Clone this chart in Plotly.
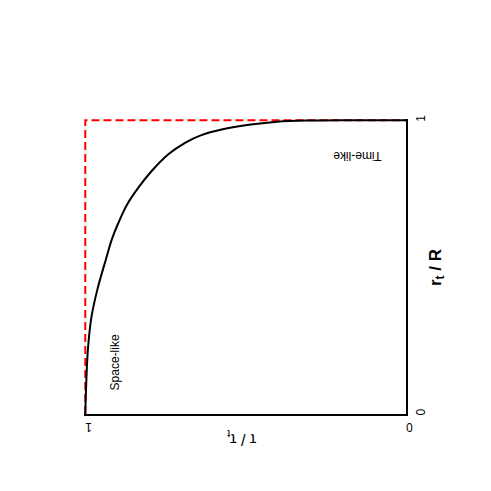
import plotly.graph_objects as go

# curve: tau/tau_t (horizontal, reversed) vs r_t/R (vertical)
tau_ratio = [1.0, 0.997, 0.992, 0.981, 0.962, 0.936, 0.917, 0.897, 0.870, 0.834,
             0.793, 0.741, 0.689, 0.638, 0.575, 0.484, 0.401, 0.298, 0.174, 0.0]
r_ratio = [0.0, 0.105, 0.217, 0.329, 0.425, 0.525, 0.595, 0.650, 0.712, 0.771,
           0.827, 0.884, 0.923, 0.949, 0.968, 0.985, 0.995, 0.999, 1.0, 1.0]

# limiting lines (red dashed)
limit_x = [1, 1, 0]
limit_y = [0, 1, 1]

x_ticks = [1, 0]
y_ticks = [0, 1]

FONT = "Liberation Sans, Arial, sans-serif"

fig = go.Figure()

fig.add_trace(
    go.Scatter(
        x=limit_x,
        y=limit_y,
        mode="lines",
        line=dict(color="rgb(255,0,0)", width=2, dash="8px,4px"),
        hoverinfo="skip",
    )
)
fig.add_trace(
    go.Scatter(
        x=tau_ratio,
        y=r_ratio,
        mode="lines",
        line=dict(color="black", width=2, shape="spline", smoothing=1.0),
    )
)

fig.add_annotation(
    x=0.152, y=0.878, text="Time-like", showarrow=False, textangle=180,
    font=dict(size=12, color="black", family=FONT),
)
fig.add_annotation(
    x=0.907, y=0.176, text="Space-like", showarrow=False, textangle=-90,
    font=dict(size=12, color="black", family=FONT),
)
fig.add_annotation(
    xref="paper", yref="paper", x=0.488, y=-0.081,
    xanchor="center", yanchor="middle",
    text="τ / τ<sub>t</sub>", showarrow=False, textangle=180,
    font=dict(size=16, color="black", family=FONT),
)
fig.add_annotation(
    xref="paper", yref="paper", x=1.096, y=0.498,
    xanchor="center", yanchor="middle",
    text="<b>r<sub>t</sub> / R</b>", showarrow=False, textangle=-90,
    font=dict(size=17, color="black", family=FONT),
)

fig.update_layout(
    width=491,
    height=491,
    margin=dict(l=76, r=93, t=111, b=85),
    paper_bgcolor="white",
    plot_bgcolor="white",
    showlegend=False,
    font=dict(family=FONT, color="black", size=12),
)
# tiny padding so the dashed limits at the top/left edges are not clipped
fig.update_xaxes(
    range=[1.004, 0],
    tickvals=x_ticks,
    ticktext=[str(v) for v in x_ticks],
    tickangle=180,
    ticks="",
    ticklabelstandoff=5,
    showgrid=False,
    zeroline=False,
    showline=True,
    linecolor="black",
    linewidth=2,
    tickfont=dict(size=12, color="black"),
)
fig.update_yaxes(
    range=[0, 1.004],
    side="right",
    tickvals=y_ticks,
    ticktext=[str(v) for v in y_ticks],
    tickangle=-90,
    ticks="",
    ticklabelstandoff=3,
    showgrid=False,
    zeroline=False,
    showline=True,
    linecolor="black",
    linewidth=2,
    tickfont=dict(size=12, color="black"),
)

fig.write_html("out.html")
